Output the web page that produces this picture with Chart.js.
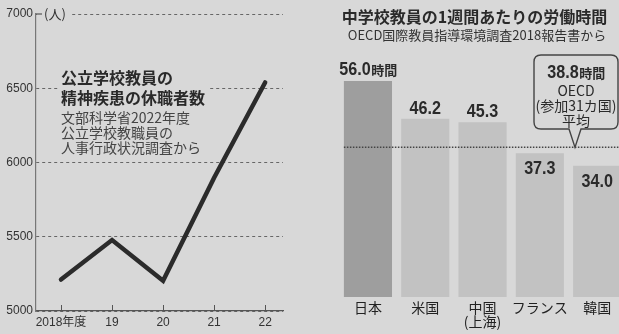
<!DOCTYPE html>
<html lang="ja">
<head>
<meta charset="utf-8">
<script src="https://cdn.jsdelivr.net/npm/chart.js@4"></script>
<style>
    html, body { margin: 0; padding: 0; background: #d8d8d8; overflow: hidden; }
    body { width: 619px; height: 334px; position: relative; }
    #leave-chart { position: absolute; left: 0; top: 0; }
    #hours-chart { position: absolute; left: 310px; top: 0; }
</style>
</head>
<body>
<canvas id="leave-chart" width="310" height="334"></canvas>
<canvas id="hours-chart" width="320" height="334"></canvas>
<script>
// DATA  -----------------------------------------------------------------------

// 公立学校教員の精神疾患の休職者数
const years = [2018, 2019, 2020, 2021, 2022];
const leaveCounts = [5212, 5478, 5203, 5897, 6539];
const leaveTicks = [5000, 5500, 6000, 6500, 7000];

// 中学校教員の1週間あたりの労働時間
const countries = ['日本', '米国', ['中国', '(上海)'], 'フランス', '韓国'];
const weeklyHours = [56.0, 46.2, 45.3, 37.3, 34.0];
const oecdAverage = 38.8;

// STYLE  ----------------------------------------------------------------------

const bgColor = '#d8d8d8';
const textColor = '#2a2a2a';
const latinFont = '"Liberation Sans", "Noto Sans CJK JP", sans-serif';
const jpFont = '"Noto Sans CJK JP", sans-serif';

// draw a bold number squeezed horizontally, followed by a smaller unit
function drawNumber(ctx, num, unit, cx, baseline) {
    const sx = 0.85;
    ctx.font = 'bold 19px "Liberation Sans", sans-serif';
    const wNum = ctx.measureText(num).width * sx;
    ctx.font = 'bold 13px ' + jpFont;
    const wUnit = unit ? ctx.measureText(unit).width : 0;
    const x0 = cx - (wNum + wUnit) / 2;
    ctx.save();
    ctx.fillStyle = textColor;
    ctx.textBaseline = 'alphabetic';
    ctx.textAlign = 'left';
    ctx.translate(x0, baseline);
    ctx.scale(sx, 1);
    ctx.font = 'bold 19px "Liberation Sans", sans-serif';
    ctx.fillText(num, 0, 0);
    ctx.restore();
    if (unit) {
        ctx.save();
        ctx.fillStyle = textColor;
        ctx.textBaseline = 'alphabetic';
        ctx.textAlign = 'left';
        ctx.font = 'bold 13px ' + jpFont;
        ctx.fillText(unit, x0 + wNum + 0.5, baseline);
        ctx.restore();
    }
}

// LEFT CHART  -----------------------------------------------------------------

const leftDecor = {
    id: 'leftDecor',
    afterDraw(chart) {
        const { ctx, chartArea, scales: { y } } = chart;
        const top = y.getPixelForValue(7000);
        ctx.save();
        // unit label on top of the axis
        ctx.fillStyle = bgColor;
        ctx.fillRect(chartArea.left + 1, top - 3, 33, 6);
        ctx.strokeStyle = '#555';
        ctx.lineWidth = 1.2;
        ctx.beginPath();
        ctx.moveTo(chartArea.left, top);
        ctx.lineTo(chartArea.left + 6, top);
        ctx.stroke();
        ctx.fillStyle = '#333';
        ctx.font = '13px ' + jpFont;
        ctx.textAlign = 'center';
        ctx.textBaseline = 'middle';
        ctx.fillText('(人)', 55, top);

        // title block
        ctx.fillStyle = bgColor;
        ctx.fillRect(58, 68, 152, 88);
        ctx.textAlign = 'left';
        ctx.fillStyle = textColor;
        ctx.font = 'bold 16px ' + jpFont;
        ctx.fillText('公立学校教員の', 61, 78);
        ctx.fillText('精神疾患の休職者数', 61, 98);
        ctx.fillStyle = '#444';
        ctx.font = '14px ' + jpFont;
        ctx.fillText('文部科学省2022年度', 61, 118);
        ctx.fillText('公立学校教職員の', 61, 133);
        ctx.fillText('人事行政状況調査から', 61, 148);

        // small tick marks standing on the x axis
        const x = chart.scales.x;
        ctx.strokeStyle = '#555';
        ctx.lineWidth = 1;
        years.forEach(v => {
            const px = Math.round(x.getPixelForValue(v)) + 0.5;
            ctx.beginPath();
            ctx.moveTo(px, chartArea.bottom);
            ctx.lineTo(px, chartArea.bottom - 6);
            ctx.stroke();
        });
        ctx.restore();
    }
};

new Chart(document.getElementById('leave-chart'), {
    type: 'line',
    data: {
        datasets: [{
            data: years.map((yr, i) => ({ x: yr, y: leaveCounts[i] })),
            borderColor: '#2b2b2b',
            borderWidth: 4.5,
            borderJoinStyle: 'miter',
            borderCapStyle: 'round',
            pointRadius: 0,
            tension: 0
        }]
    },
    options: {
        responsive: false,
        animation: false,
        layout: { padding: { top: 14, right: 27, left: 0, bottom: 0 } },
        plugins: {
            legend: { display: false },
            tooltip: { enabled: false }
        },
        scales: {
            x: {
                type: 'linear',
                min: 2017.51,
                max: 2022.35,
                afterBuildTicks: s => { s.ticks = years.map(v => ({ value: v })); },
                afterFit: s => { s.height = 23; },
                ticks: {
                    callback: v => v === years[0] ? v + '年度' : String(v).slice(2),
                    color: '#333',
                    font: { size: 12, family: latinFont },
                    padding: 4,
                    maxRotation: 0,
                    autoSkip: false
                },
                grid: { display: false, drawTicks: false },
                border: { display: true, color: '#555', width: 1.2 }
            },
            y: {
                min: 5000,
                max: 7000,
                afterBuildTicks: s => { s.ticks = leaveTicks.map(v => ({ value: v })); },
                afterFit: s => { s.width = 36; },
                ticks: {
                    callback: v => String(v),
                    color: '#333',
                    font: { size: 12, family: latinFont },
                    padding: 3
                },
                grid: { color: '#666', lineWidth: 1, drawTicks: false },
                border: { display: true, color: '#777', width: 1.2, dash: [3, 3] }
            }
        }
    },
    plugins: [leftDecor]
});

// RIGHT CHART  ----------------------------------------------------------------

const rightDecor = {
    id: 'rightDecor',
    afterDraw(chart) {
        const { ctx, chartArea, scales: { y } } = chart;
        const bars = chart.getDatasetMeta(0).data;

        // OECD average dotted line
        const avgY = y.getPixelForValue(oecdAverage);
        ctx.save();
        ctx.strokeStyle = '#444';
        ctx.lineWidth = 1.5;
        ctx.setLineDash([1.5, 1.5]);
        ctx.beginPath();
        ctx.moveTo(bars[0].x - bars[0].width / 2, avgY);
        ctx.lineTo(chart.width, avgY);
        ctx.stroke();
        ctx.restore();

        // value labels
        weeklyHours.forEach((v, i) => {
            const b = bars[i];
            const txt = v.toFixed(1);
            if (i === 0) {
                drawNumber(ctx, txt, '時間', b.x, b.y - 6);
            } else if (v > oecdAverage) {
                drawNumber(ctx, txt, '', b.x, b.y - 5);
            } else {
                drawNumber(ctx, txt, '', b.x, b.y + 21);
            }
        });

        // callout box
        const l = 224, r = 308, t = 55, btm = 129, rad = 7;
        const tipX = 265;
        ctx.save();
        ctx.beginPath();
        ctx.moveTo(l + rad, t);
        ctx.lineTo(r - rad, t);
        ctx.quadraticCurveTo(r, t, r, t + rad);
        ctx.lineTo(r, btm - rad);
        ctx.quadraticCurveTo(r, btm, r - rad, btm);
        ctx.lineTo(tipX + 6, btm);
        ctx.lineTo(tipX, avgY);
        ctx.lineTo(tipX - 6, btm);
        ctx.lineTo(l + rad, btm);
        ctx.quadraticCurveTo(l, btm, l, btm - rad);
        ctx.lineTo(l, t + rad);
        ctx.quadraticCurveTo(l, t, l + rad, t);
        ctx.closePath();
        ctx.fillStyle = bgColor;
        ctx.fill();
        ctx.strokeStyle = '#444';
        ctx.lineWidth = 1.4;
        ctx.stroke();
        ctx.restore();

        const cx = (l + r) / 2;
        drawNumber(ctx, oecdAverage.toFixed(1), '時間', cx, 78);
        ctx.save();
        ctx.fillStyle = textColor;
        ctx.textAlign = 'center';
        ctx.textBaseline = 'middle';
        ctx.font = '14px ' + jpFont;
        ctx.fillText('OECD', cx, 91);
        ctx.fillText('(参加31カ国)', cx, 106);
        ctx.fillText('平均', cx, 121);

        // titles
        ctx.font = 'bold 16px ' + jpFont;
        ctx.fillText('中学校教員の1週間あたりの労働時間', 164.5, 17);
        ctx.fillStyle = '#333';
        ctx.font = '13px ' + jpFont;
        ctx.fillText('OECD国際教員指導環境調査2018報告書から', 167, 35);
        ctx.restore();
    }
};

new Chart(document.getElementById('hours-chart'), {
    type: 'bar',
    data: {
        labels: countries,
        datasets: [{
            data: weeklyHours,
            backgroundColor: weeklyHours.map((v, i) => i === 0 ? '#9e9e9e' : '#c2c2c2'),
            borderWidth: 0,
            barPercentage: 0.84,
            categoryPercentage: 1
        }]
    },
    options: {
        responsive: false,
        animation: false,
        layout: { padding: { left: 29.3, right: 4.2, top: 65.6, bottom: 0 } },
        plugins: {
            legend: { display: false },
            tooltip: { enabled: false }
        },
        scales: {
            x: {
                afterFit: s => { s.height = 37; },
                ticks: {
                    color: '#222',
                    font: { size: 14, family: jpFont, lineHeight: 1.0 },
                    padding: 4,
                    maxRotation: 0,
                    autoSkip: false
                },
                grid: { display: false, drawTicks: false },
                border: { display: false }
            },
            y: {
                display: false,
                min: 0,
                max: 60
            }
        }
    },
    plugins: [rightDecor]
});
</script>
</body>
</html>
